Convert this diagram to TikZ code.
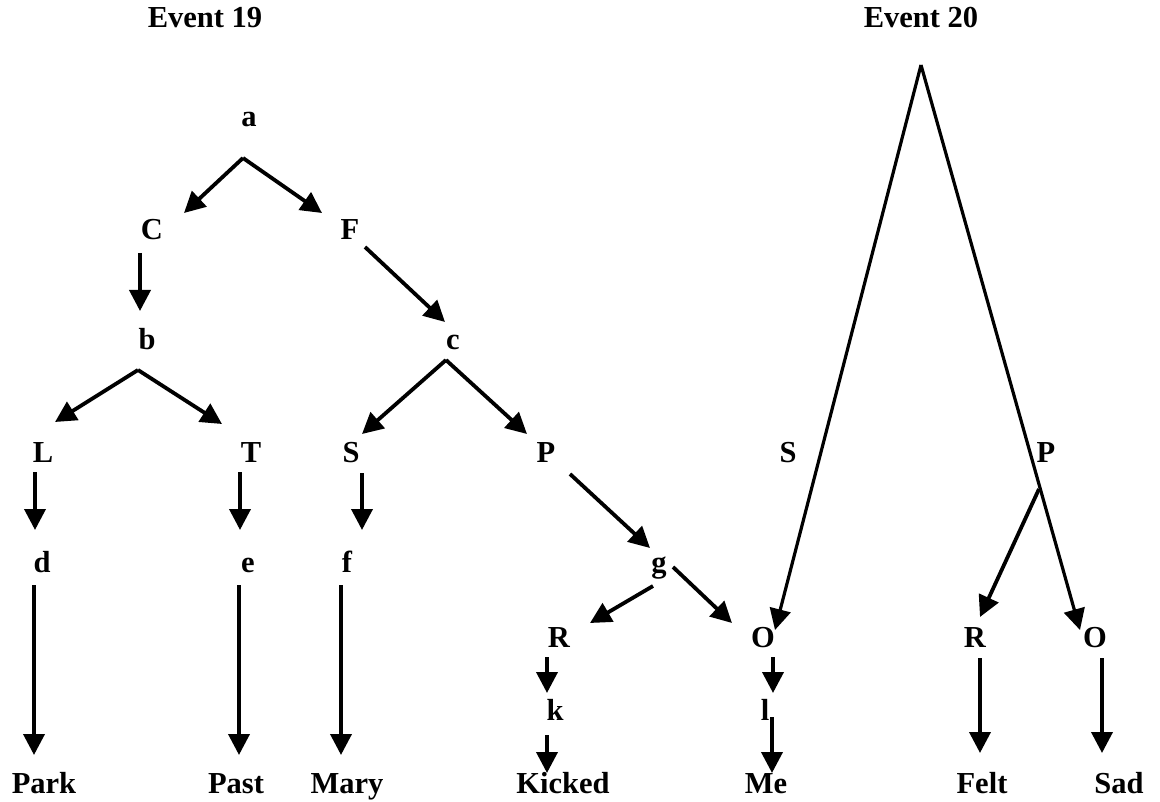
\documentclass[tikz,border=0pt]{standalone}
\usepackage{fontspec}
\setmainfont{Liberation Serif}
\usetikzlibrary{arrows.meta}
\begin{document}
\begin{tikzpicture}[x=1pt,y=-1pt,
  lbl/.style={font=\fontsize{30.5}{33}\selectfont\bfseries, anchor=base, inner sep=0pt},
  arr/.style={line width=3.8pt, -{Triangle[length=21pt,width=21pt]}},
  arrthin/.style={line width=3.2pt, -{Triangle[length=21pt,width=21pt]}}]
\useasboundingbox (0,0) rectangle (1160,802);
% labels
\node[lbl] (ev19) at (205,28) {Event 19};
\node[lbl] (ev20) at (921,28) {Event 20};
\node[lbl] (a) at (249,127) {a};
\node[lbl] (C) at (152,240) {C};
\node[lbl] (F) at (350,240) {F};
\node[lbl] (b) at (147,350) {b};
\node[lbl] (c) at (453,350) {c};
\node[lbl] (L) at (43,462) {L};
\node[lbl] (T) at (251,462) {T};
\node[lbl] (S1) at (351,462) {S};
\node[lbl] (P1) at (546,462) {P};
\node[lbl] (S2) at (788,462) {S};
\node[lbl] (P2) at (1046,462) {P};
\node[lbl] (d) at (42,572) {d};
\node[lbl] (e) at (248,572) {e};
\node[lbl] (f) at (347,572) {f};
\node[lbl] (g) at (659,572) {g};
\node[lbl] (R1) at (559,647) {R};
\node[lbl] (O1) at (763,647) {O};
\node[lbl] (R2) at (975,647) {R};
\node[lbl] (O2) at (1095,647) {O};
\node[lbl] (k) at (555,720) {k};
\node[lbl] (l) at (765,720) {l};
\node[lbl] (park) at (44,793) {Park};
\node[lbl] (past) at (236,793) {Past};
\node[lbl] (mary) at (347,793) {Mary};
\node[lbl] (kicked) at (563,793) {Kicked};
\node[lbl] (me) at (766,793) {Me};
\node[lbl] (felt) at (982,793) {Felt};
\node[lbl] (sad) at (1119,793) {Sad};
% connector ends
\coordinate (a-out) at (243,158);
\coordinate (C-in) at (184,213);
\coordinate (F-in) at (322,213);
\coordinate (C-out) at (140,253);
\coordinate (b-in) at (140,311);
\coordinate (F-out) at (365,247);
\coordinate (c-in) at (445,322);
\coordinate (b-out) at (138,370);
\coordinate (L-in) at (55,422);
\coordinate (T-in) at (222,424);
\coordinate (c-out) at (446,360);
\coordinate (S1-in) at (362,434);
\coordinate (P1-in) at (527,434);
\coordinate (L-out) at (35,472);
\coordinate (d-in) at (35,530);
\coordinate (T-out) at (240,472);
\coordinate (e-in) at (240,530);
\coordinate (S1-out) at (362,473);
\coordinate (f-in) at (362,530);
\coordinate (d-out) at (34,585);
\coordinate (park-in) at (34,755);
\coordinate (e-out) at (239,585);
\coordinate (past-in) at (239,755);
\coordinate (f-out) at (341,585);
\coordinate (mary-in) at (341,755);
\coordinate (P1-out) at (570,474);
\coordinate (g-in) at (650,548);
\coordinate (g-outL) at (653,586);
\coordinate (R1-in) at (590,623);
\coordinate (g-outR) at (673,567);
\coordinate (O1-inL) at (732,623);
\coordinate (R1-out) at (547,657);
\coordinate (k-in) at (547,693);
\coordinate (k-out) at (547,735);
\coordinate (kicked-in) at (547,773);
\coordinate (O1-out) at (773,657);
\coordinate (l-in) at (773,693);
\coordinate (l-out) at (772,717);
\coordinate (me-in) at (772,773);
\coordinate (ev20-top) at (921,65);
\coordinate (O1-inR) at (775,630);
\coordinate (O2-in) at (1080,630);
\coordinate (P2-j) at (1039,489);
\coordinate (R2-in) at (980,617);
\coordinate (R2-out) at (980,658);
\coordinate (felt-in) at (980,753);
\coordinate (O2-out) at (1102,658);
\coordinate (sad-in) at (1102,753);
% connectors
\draw[arr] (a-out) -- (C-in);
\draw[arr] (a-out) -- (F-in);
\draw[arr] (C-out) -- (b-in);
\draw[arr] (F-out) -- (c-in);
\draw[arr] (b-out) -- (L-in);
\draw[arr] (b-out) -- (T-in);
\draw[arr] (c-out) -- (S1-in);
\draw[arr] (c-out) -- (P1-in);
\draw[arr] (L-out) -- (d-in);
\draw[arr] (T-out) -- (e-in);
\draw[arr] (S1-out) -- (f-in);
\draw[arr] (d-out) -- (park-in);
\draw[arr] (e-out) -- (past-in);
\draw[arr] (f-out) -- (mary-in);
\draw[arr] (P1-out) -- (g-in);
\draw[arr] (g-outL) -- (R1-in);
\draw[arr] (g-outR) -- (O1-inL);
\draw[arr] (R1-out) -- (k-in);
\draw[arr] (k-out) -- (kicked-in);
\draw[arr] (O1-out) -- (l-in);
\draw[arr] (l-out) -- (me-in);
\draw[arrthin] (ev20-top) -- (O1-inR);
\draw[arrthin] (ev20-top) -- (O2-in);
\draw[arr] (P2-j) -- (R2-in);
\draw[arr] (R2-out) -- (felt-in);
\draw[arr] (O2-out) -- (sad-in);
\end{tikzpicture}
\end{document}
